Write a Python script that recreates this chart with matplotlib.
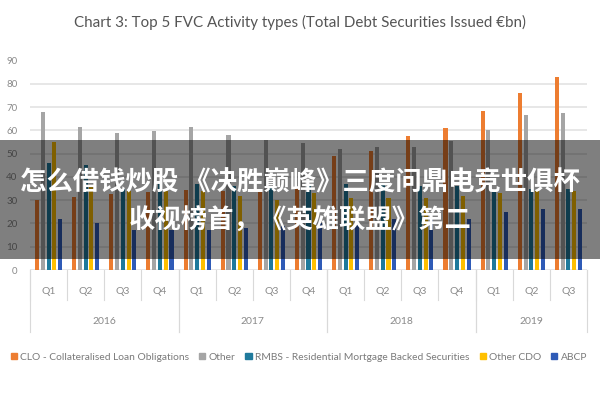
import numpy as np
import matplotlib
matplotlib.use('Agg')
import matplotlib.pyplot as plt
import matplotlib.transforms as mtransforms
from matplotlib.patches import Rectangle, Patch

# data (EUR bn)
quarters = ['Q1', 'Q2', 'Q3', 'Q4', 'Q1', 'Q2', 'Q3', 'Q4',
            'Q1', 'Q2', 'Q3', 'Q4', 'Q1', 'Q2', 'Q3']
years = ['2016', '2017', '2018', '2019']
year_spans = [(0, 3), (4, 7), (8, 11), (12, 14)]

series_names = ['CLO - Collateralised Loan Obligations', 'Other',
                'RMBS - Residential Mortgage Backed Securities', 'Other CDO', 'ABCP']
clo = [30, 31.5, 32.5, 33.5, 34.5, 34, 34.5, 35.5, 49, 51, 57.5, 61, 68.5, 76, 83]
other = [68, 61.5, 59, 59.5, 61.5, 58, 56, 54.5, 52, 53, 53, 55.5, 60, 66.5, 67.5]
rmbs = [46, 45, 35, 37, 37, 36, 36, 36, 37, 37, 36, 36, 34, 35, 35]
other_cdo = [55, 36, 34, 34, 34, 32, 30, 33, 31, 31, 31, 32, 33, 34, 34]
abcp = [22, 20, 17, 17, 17, 18, 19, 20, 21, 22, 22, 22, 25, 26, 26]
colors = ['#ED7D31', '#A5A5A5', '#1F7A9C', '#FFC000', '#2F5BB7']

plt.rcParams['font.family'] = ['Lato', 'DejaVu Sans']

fig = plt.figure(figsize=(6, 4), dpi=100)
W, H = 600.0, 400.0
ax = fig.add_axes([30 / W, 1 - 270 / H, 557 / W, 209.5 / H])

x = np.arange(len(quarters))
step = 0.155
bw = 0.11
for k, (vals, c) in enumerate(zip([clo, other, rmbs, other_cdo, abcp], colors)):
    ax.bar(x + (k - 2) * step, vals, width=bw, color=c, zorder=3)

ax.set_xlim(-0.5, len(quarters) - 0.5)
ax.set_ylim(0, 90)
ax.set_yticks(range(0, 91, 10))
ax.yaxis.grid(True, color='#e3e3e3', linewidth=1.2, zorder=0)
ax.tick_params(axis='y', length=0, labelsize=7, labelcolor='#8a8a8a', pad=9)
ax.set_xticks([])
for s in ax.spines.values():
    s.set_visible(False)

# two level category axis
tr = mtransforms.blended_transform_factory(ax.transData, fig.transFigure)
for i, q in enumerate(quarters):
    ax.text(i, 1 - 291 / H, q, transform=tr, ha='center', va='center',
            fontsize=7.5, color='#8a8a8a', clip_on=False)
for i in range(len(quarters) + 1):
    ax.plot([i - 0.5, i - 0.5], [1 - 270 / H, 1 - 300 / H], transform=tr,
            color='#d9d9d9', lw=0.8, clip_on=False)
for (a, b), yr in zip(year_spans, years):
    ax.text((a + b) / 2, 1 - 321 / H, yr, transform=tr, ha='center', va='center',
            fontsize=7.5, color='#8a8a8a', clip_on=False)
    for e in (a - 0.5, b + 0.5):
        ax.plot([e, e], [1 - 270 / H, 1 - 332 / H], transform=tr,
                color='#d9d9d9', lw=0.8, clip_on=False)

fig.text(0.5, 1 - 22 / H,
         'Chart 3: Top 5 FVC Activity types (Total Debt Securities Issued \u20acbn)',
         ha='center', va='center', fontsize=10.9, color='#555555')

handles = [Patch(color=c, label=n) for c, n in zip(colors, series_names)]
fig.legend(handles=handles, loc='center', bbox_to_anchor=(0.498, 1 - 357 / H),
           ncol=5, frameon=False, fontsize=7.4, handlelength=0.6, handleheight=0.6,
           handletextpad=0.3, columnspacing=1.0, labelcolor='#7a7a7a')

# dark caption banner over the chart
fig.patches.append(Rectangle((0, 1 - 259 / H), 1, 119 / H, transform=fig.transFigure,
                             facecolor='black', alpha=0.5, edgecolor='none', zorder=10))
cjk = ['Noto Sans CJK SC', 'DejaVu Sans']
fig.text(0.5, 1 - 183 / H, '怎么借钱炒股 《决胜巅峰》三度问鼎电竞世俱杯',
         ha='center', va='center', fontsize=19, color='white', fontweight='bold',
         family=cjk, zorder=11)
fig.text(0.5, 1 - 221 / H, '收视榜首，《英雄联盟》第二',
         ha='center', va='center', fontsize=19, color='white', fontweight='bold',
         family=cjk, zorder=11)

fig.savefig('out.png', dpi=100)
